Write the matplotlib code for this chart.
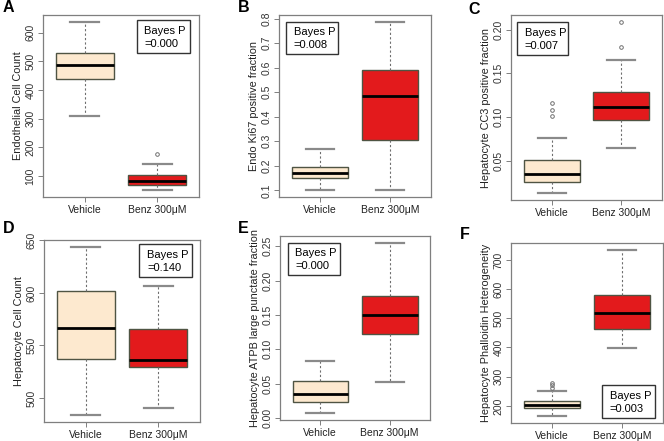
import numpy as np
import matplotlib
matplotlib.use('Agg')
import matplotlib.pyplot as plt
from matplotlib.patches import Rectangle

plt.rcParams['font.family'] = ['Liberation Sans', 'DejaVu Sans']

## Box statistics: low whisker, Q1, median, Q3, high whisker ##
groups = ['Vehicle', 'Benz 300\u03bcM']

veh_A = [308, 437, 487, 530, 638]
benz_A = [51, 69, 83, 103, 144]
out_veh_A = []
out_benz_A = [178]

veh_B = [0.103, 0.148, 0.172, 0.195, 0.268]
benz_B = [0.100, 0.303, 0.484, 0.592, 0.787]
out_veh_B = []
out_benz_B = []

veh_C = [0.0126, 0.0258, 0.0348, 0.0505, 0.0753]
benz_C = [0.064, 0.0964, 0.111, 0.128, 0.165]
out_veh_C = [0.101, 0.108, 0.116]
out_benz_C = [0.180, 0.209]

veh_D = [483.5, 537, 566.7, 601.6, 644]
benz_D = [490.5, 529.6, 535.7, 566, 606.7]
out_veh_D = []
out_benz_D = []

veh_E = [0.0069, 0.0236, 0.0354, 0.0535, 0.083]
benz_E = [0.053, 0.122, 0.150, 0.178, 0.255]
out_veh_E = []
out_benz_E = []

veh_F = [164, 193, 203, 217, 250]
benz_F = [397, 462, 518, 578, 735]
out_veh_F = [262, 271, 279]
out_benz_F = []

ylabels = ['Endothelial Cell Count', 'Endo Ki67 positive fraction',
           'Hepatocyte CC3 positive fraction', 'Hepatocyte Cell Count',
           'Hepatocyte ATPB large punctate fraction', 'Hepatocyte Phalloidin Heterogeneity']
pvals = ['0.000', '0.008', '0.007', '0.140', '0.000', '0.003']
letters = ['A', 'B', 'C', 'D', 'E', 'F']
yticks = [[100, 200, 300, 400, 500, 600],
          [0.1, 0.2, 0.3, 0.4, 0.5, 0.6, 0.7, 0.8],
          [0.05, 0.10, 0.15, 0.20],
          [500, 550, 600, 650],
          [0.00, 0.05, 0.10, 0.15, 0.20, 0.25],
          [200, 300, 400, 500, 600, 700]]
ytickfmt = ['%d', '%.1f', '%.2f', '%d', '%.2f', '%d']

panels = [(veh_A, benz_A, out_veh_A, out_benz_A),
          (veh_B, benz_B, out_veh_B, out_benz_B),
          (veh_C, benz_C, out_veh_C, out_benz_C),
          (veh_D, benz_D, out_veh_D, out_benz_D),
          (veh_E, benz_E, out_veh_E, out_benz_E),
          (veh_F, benz_F, out_veh_F, out_benz_F)]

# axes rectangles in pixels (left, top, right, bottom)
rects = [(43, 15, 199, 197), (279, 15, 431, 197), (511, 15, 662, 200),
         (44, 240, 200, 422), (280, 236, 430, 420), (511, 243, 663, 423)]
# legend box in axes fraction (x0, y0, x1, y1)
pboxes = [(0.60, 0.79, 0.94, 0.97), (0.046, 0.785, 0.39, 0.96), (0.04, 0.785, 0.378, 0.96),
          (0.61, 0.797, 0.95, 0.978), (0.053, 0.79, 0.40, 0.96), (0.60, 0.03, 0.95, 0.21)]
letter_xy = [(3, 8), (238, 8), (468, 9), (3, 229), (238, 229), (460, 234)]

W, H = 664, 441
fig = plt.figure(figsize=(W / 100, H / 100), dpi=100)
fill_cols = ['#fde9cf', '#e31a1c']
frame_col = '#7f7f7f'

for i in range(6):
    l, t, r, b = rects[i]
    ax = fig.add_axes([l / W, (H - b) / H, (r - l) / W, (b - t) / H])
    veh, benz, ov, ob = panels[i]
    stats = []
    for name, s, o in zip(groups, [veh, benz], [ov, ob]):
        stats.append(dict(label=name, whislo=s[0], q1=s[1], med=s[2], q3=s[3], whishi=s[4], fliers=o))
    bp = ax.bxp(stats, positions=[1, 2], widths=0.8, patch_artist=True, capwidths=0.4,
                boxprops=dict(edgecolor='#4f5443', linewidth=1.0),
                medianprops=dict(color='black', linewidth=2.0),
                whiskerprops=dict(color='#6e6e6e', linestyle=(0, (2, 2)), linewidth=0.8),
                capprops=dict(color='#8a8a8a', linewidth=1.6),
                flierprops=dict(marker='o', markersize=2.6, markerfacecolor='none',
                                markeredgecolor='#707070', markeredgewidth=0.7))
    for patch, c in zip(bp['boxes'], fill_cols):
        patch.set_facecolor(c)

    # R style axis range: data range extended by 4%
    allv = veh + benz + ov + ob
    lo, hi = min(allv), max(allv)
    pad = 0.04 * (hi - lo)
    ax.set_ylim(lo - pad, hi + pad)
    ax.set_xlim(0.42, 2.58)

    ax.set_yticks(yticks[i])
    ax.set_yticklabels([ytickfmt[i] % v for v in yticks[i]], rotation=90, va='center',
                       fontsize=7.5, color='#333333')
    ax.set_xticks([1, 2])
    ax.set_xticklabels(groups, fontsize=7.5, color='#222222')
    ax.tick_params(axis='both', length=3.5, width=0.7, color=frame_col, pad=2)
    ax.set_ylabel(ylabels[i], fontsize=7.8, color='#222222', labelpad=2)
    for sp in ax.spines.values():
        sp.set_color(frame_col)
        sp.set_linewidth(0.9)

    x0, y0, x1, y1 = pboxes[i]
    ax.add_patch(Rectangle((x0, y0), x1 - x0, y1 - y0, transform=ax.transAxes,
                           facecolor='white', edgecolor='#333333', linewidth=1.0, zorder=5))
    ax.text(x0 + 0.05, y0 + (y1 - y0) * 0.68, 'Bayes P', transform=ax.transAxes,
            fontsize=8, va='center', ha='left', zorder=6)
    ax.text(x0 + 0.05, y0 + (y1 - y0) * 0.28, '=' + pvals[i], transform=ax.transAxes,
            fontsize=8, va='center', ha='left', zorder=6)

    lx, ly = letter_xy[i]
    fig.text(lx / W, 1 - ly / H, letters[i], fontsize=11.5, fontweight='bold',
             va='center', ha='left')

fig.savefig('out.png', dpi=100)
